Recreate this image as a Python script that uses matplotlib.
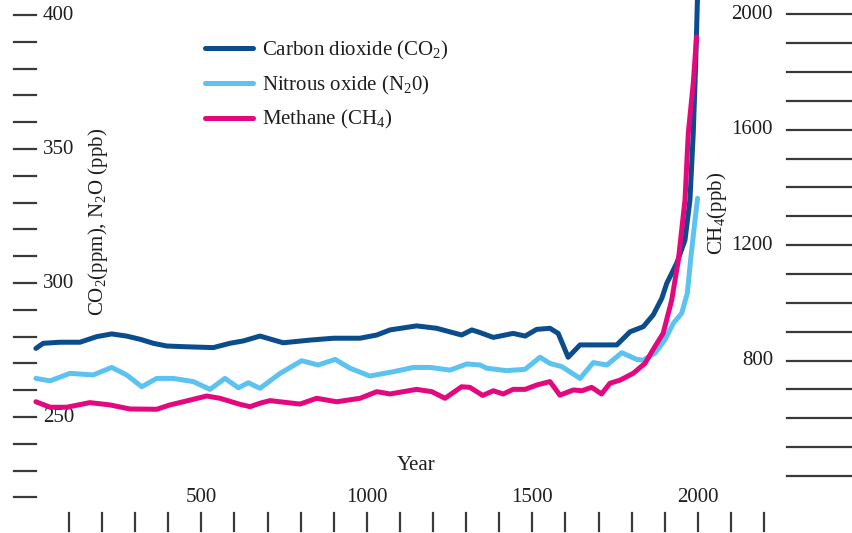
import matplotlib
matplotlib.use("Agg")
import matplotlib.pyplot as plt
from matplotlib import transforms

plt.rcParams['font.family'] = ['Liberation Serif', 'DejaVu Serif']
plt.rcParams['mathtext.fontset'] = 'custom'
plt.rcParams['mathtext.rm'] = 'Liberation Serif'
plt.rcParams['mathtext.it'] = 'Liberation Serif:italic'

# ---------------- data ----------------
co2_years = [0, 22, 73, 133, 184, 229, 274, 315, 355, 395, 456, 536, 586, 627, 677,
             747, 828, 899, 979, 1030, 1070, 1150, 1211, 1286, 1317, 1342, 1382, 1442,
             1478, 1513, 1553, 1578, 1608, 1644, 1755, 1795, 1835, 1865, 1891, 1906,
             1936, 1961, 1976, 1986, 1993, 2000]
co2_vals = [275.6, 277.5, 277.9, 277.9, 280.0, 281.0, 280.2, 279.0, 277.5, 276.5, 276.2,
            275.9, 277.5, 278.4, 280.2, 277.7, 278.7, 279.4, 279.4, 280.6, 282.5, 284.0,
            283.1, 280.6, 282.5, 281.5, 279.7, 281.2, 280.2, 282.7, 283.1, 281.2, 272.3,
            276.9, 276.9, 281.8, 283.7, 288.1, 294.3, 299.9, 307.4, 316.0, 331.0, 356.0,
            380.7, 412.0]

n2o_years = [0, 43, 103, 173, 229, 274, 320, 365, 415, 476, 526, 571, 612, 642, 677,
             738, 803, 853, 904, 949, 1009, 1080, 1140, 1191, 1251, 1302, 1342, 1362,
             1422, 1478, 1523, 1553, 1589, 1644, 1684, 1725, 1770, 1815, 1835, 1870,
             1900, 1926, 1951, 1968, 1978, 1989, 1999]
n2o_vals = [264.4, 263.5, 266.3, 265.7, 268.5, 265.7, 261.3, 264.4, 264.4, 263.2, 260.3,
            264.4, 260.9, 262.8, 260.7, 266.3, 271.0, 269.4, 271.5, 268.2, 265.3, 266.9,
            268.5, 268.5, 267.5, 269.8, 269.4, 268.2, 267.3, 267.8, 272.3, 270.0, 268.8,
            264.4, 270.3, 269.4, 274.0, 271.5, 271.2, 273.8, 278.7, 285.0, 288.7, 296.2,
            308.6, 321.0, 331.6]

ch4_years = [0, 43, 93, 163, 224, 284, 365, 405, 445, 516, 556, 617, 647, 677, 707,
             798, 848, 909, 979, 1030, 1070, 1150, 1196, 1236, 1286, 1311, 1350, 1382,
             1412, 1442, 1478, 1513, 1553, 1583, 1624, 1649, 1679, 1709, 1734, 1765,
             1805, 1840, 1870, 1895, 1921, 1941, 1961, 1971, 1986, 1996]
ch4_vals = [657, 638, 638, 654, 646, 632, 631, 646, 657, 677, 669, 648, 640, 652, 661,
            649, 669, 657, 669, 692, 684, 700, 692, 669, 709, 707, 679, 695, 684, 700,
            700, 715, 727, 680, 698, 695, 707, 684, 721, 732, 756, 790, 848, 894, 1010,
            1148, 1356, 1588, 1761, 1922]

left_ticks = list(range(220, 401, 10))
left_labels = {250: '250', 300: '300', 350: '350', 400: '400'}
right_ticks = list(range(400, 2001, 100))
right_labels = {800: '800', 1200: '1200', 1600: '1600', 2000: '2000'}
x_ticks = list(range(100, 2201, 100))
x_labels = {500: '500', 1000: '1000', 1500: '1500', 2000: '2000'}

# ---------------- figure ----------------
W, H = 853, 533
fig = plt.figure(figsize=(W / 100, H / 100), dpi=100)
ax = fig.add_axes([0, 0, 1, 1])
ax2 = ax.twinx()
for a in (ax, ax2):
    a.set_axis_off()
    a.patch.set_visible(False)

ax.set_xlim(-108.46, 2468.6)
ax.set_ylim(206.72, 405.60)
ax2.set_ylim(202.1, 2049.6)

c_co2 = '#0b4c8c'
c_n2o = '#5cc3f0'
c_ch4 = '#e4087e'
tick_c = '#3a3a3a'
txt_c = '#1e1e1e'
lw = 3.6

l1, = ax.plot(co2_years, co2_vals, color=c_co2, lw=lw, solid_joinstyle='round',
              solid_capstyle='round', label=r'Carbon dioxide (CO$_{\mathrm{2}}$)')
l2, = ax.plot(n2o_years, n2o_vals, color=c_n2o, lw=lw, solid_joinstyle='round',
              solid_capstyle='round', label=r'Nitrous oxide (N$_{\mathrm{2}}$0)')
l3, = ax2.plot(ch4_years, ch4_vals, color=c_ch4, lw=lw, solid_joinstyle='round',
               solid_capstyle='round', label=r'Methane (CH$_{\mathrm{4}}$)')

fs = 15
# left ticks (detached)
tl = transforms.blended_transform_factory(ax.transAxes, ax.transData)
for v in left_ticks:
    ax.plot([14 / W, 36 / W], [v, v], transform=tl, color=tick_c, lw=1.6, clip_on=False)
    if v in left_labels:
        ax.text(43 / W, v, left_labels[v], transform=tl, ha='left', va='center',
                fontsize=fs, color=txt_c)

# right ticks (detached)
tr = transforms.blended_transform_factory(ax2.transAxes, ax2.transData)
for v in right_ticks:
    ax2.plot([787 / W, 1.0], [v, v], transform=tr, color=tick_c, lw=1.6, clip_on=False)
    if v in right_labels:
        ax2.text(773 / W, v, right_labels[v], transform=tr, ha='right', va='center',
                 fontsize=fs, color=txt_c)

# bottom ticks (detached)
tb = transforms.blended_transform_factory(ax.transData, ax.transAxes)
for v in x_ticks:
    ax.plot([v, v], [1 - 513 / H, 1 - 531 / H], transform=tb, color=tick_c, lw=1.6,
            clip_on=False)
    if v in x_labels:
        ax.text(v, 1 - 497 / H, x_labels[v], transform=tb, ha='center', va='center',
                fontsize=fs, color=txt_c)

# axis titles
fig.text(416 / W, 1 - 466 / H, 'Year', ha='center', va='center', fontsize=fs, color=txt_c)
fig.text(98 / W, 1 - 222 / H, r'CO$_{\mathrm{2}}$(ppm), N$_{\mathrm{2}}$O (ppb)',
         rotation=90, ha='center', va='center', fontsize=fs, color=txt_c)
fig.text(717 / W, 1 - 213 / H, r'CH$_{\mathrm{4}}$(ppb)', rotation=90, ha='center',
         va='center', fontsize=fs, color=txt_c)

leg = fig.legend(handles=[l1, l2, l3], loc='upper left',
                 bbox_to_anchor=(205 / W, 1 - 39 / H), frameon=False, fontsize=fs,
                 borderpad=0, borderaxespad=0, handlelength=2.3, handletextpad=0.45,
                 labelspacing=0.56)
for t in leg.get_texts():
    t.set_color(txt_c)

fig.savefig('out.png', dpi=100)
